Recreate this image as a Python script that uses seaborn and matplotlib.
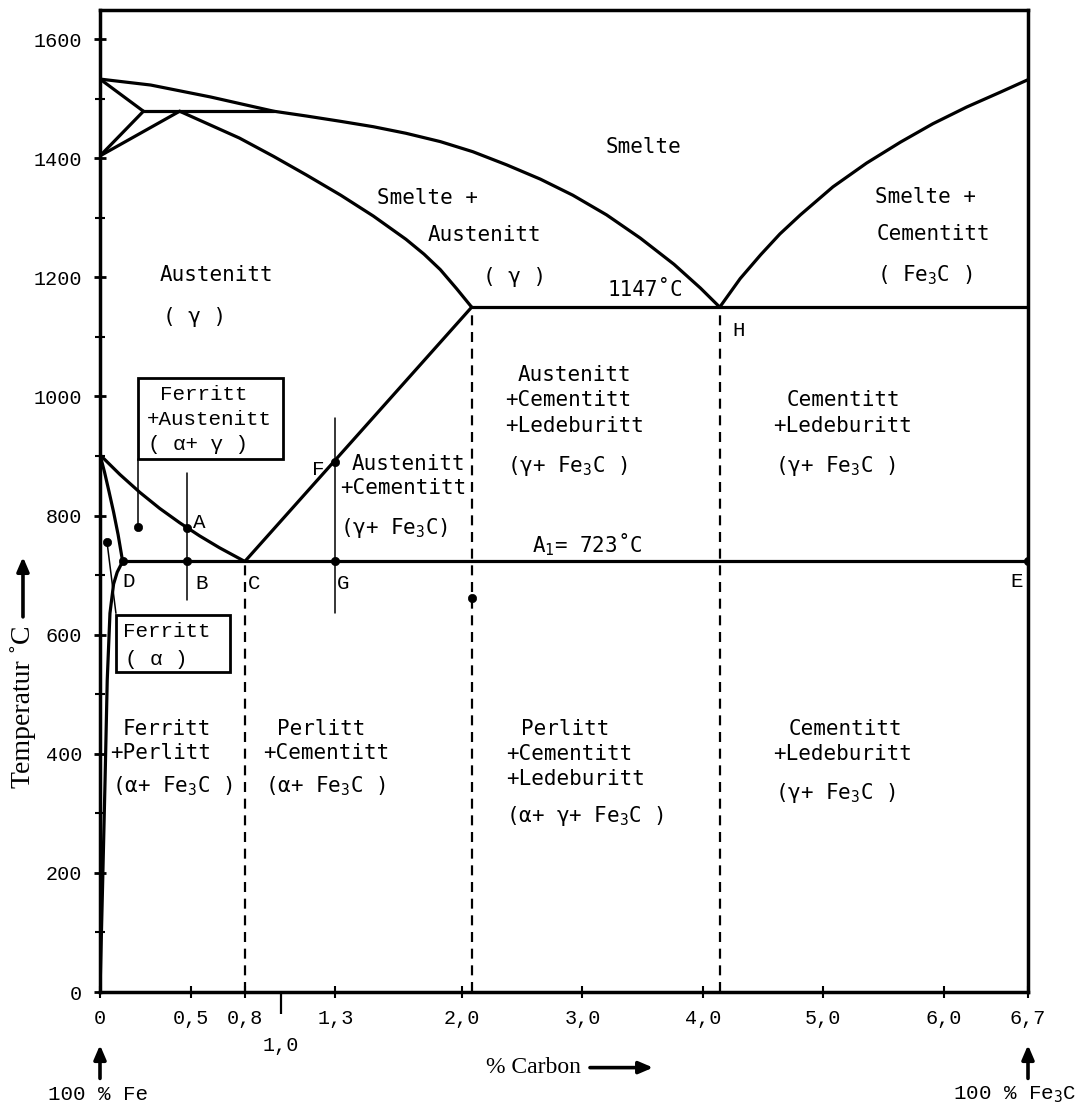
import numpy as np
import matplotlib
matplotlib.use("Agg")
import matplotlib.pyplot as plt
import seaborn as sns
from matplotlib.patches import Rectangle

# ---------------- data (carbon %, temperature degC) ----------------
liquidus_c = [0.0, 0.28, 0.61, 0.77, 0.96, 1.14, 1.33, 1.51, 1.69, 1.88, 2.09,
              2.37, 2.65, 2.92, 3.20, 3.48, 3.76, 3.98, 4.14]
liquidus_t = [1533, 1523, 1503, 1492, 1479, 1471, 1462, 1453, 1442, 1428, 1411,
              1389, 1365, 1338, 1305, 1266, 1222, 1182, 1150]
cem_liq_c = [4.14, 4.31, 4.48, 4.64, 4.81, 5.08, 5.36, 5.64, 5.91, 6.19, 6.47, 6.70]
cem_liq_t = [1150, 1198, 1238, 1273, 1305, 1352, 1392, 1427, 1458, 1486, 1511, 1532]
solidus_c = [0.44, 0.77, 0.96, 1.14, 1.33, 1.51, 1.69, 1.79, 1.88, 1.97, 2.08]
solidus_t = [1479, 1434, 1403, 1372, 1338, 1303, 1264, 1239, 1213, 1181, 1150]
perit_c = [0.24, 0.96]
perit_t = [1479, 1479]
delta1_c = [0.0, 0.24]
delta1_t = [1533, 1479]
delta2_c = [0.0, 0.24]
delta2_t = [1404, 1479]
delta3_c = [0.0, 0.44]
delta3_t = [1404, 1479]
eutectic_c = [2.08, 6.70]
eutectic_t = [1150, 1150]
eutectoid_c = [0.125, 6.70]
eutectoid_t = [723, 723]
ac3_c = [0.0, 0.11, 0.22, 0.33, 0.44, 0.55, 0.66, 0.80]
ac3_t = [902, 869, 839, 812, 788, 766, 746, 723]
acm_c = [0.80, 2.08]
acm_t = [723, 1150]
a3_c = [0.0, 0.025, 0.05, 0.075, 0.10, 0.125]
a3_t = [902, 873, 840, 806, 768, 723]
solvus_c = [0.125, 0.095, 0.075, 0.055, 0.040, 0.028, 0.015, 0.0]
solvus_t = [723, 705, 685, 636, 524, 356, 188, 0]

dash_c = [0.80, 2.08, 4.14]
dash_top = [723, 1150, 1150]

ab_c = [0.48, 0.48]
ab_t = [658, 871]
fg_c = [1.30, 1.30]
fg_t = [636, 964]
lead1_c = [0.21, 0.21]
lead1_t = [781, 895]
lead2_c = [0.039, 0.088]
lead2_t = [755, 636]

dots_c = [0.48, 0.48, 1.30, 1.30, 0.125, 6.70, 0.21, 0.039, 2.08]
dots_t = [780, 723, 890, 723, 723, 723, 781, 755, 661]

x_ticks = [0, 0.5, 0.8, 1.3, 2.0, 3.0, 4.0, 5.0, 6.0, 6.7]
x_tick_labels = ["0", "0,5", "0,8", "1,3", "2,0", "3,0", "4,0", "5,0", "6,0", "6,7"]
x_minor = [1.0]
x_minor_labels = ["1,0"]
y_ticks = [0, 200, 400, 600, 800, 1000, 1200, 1400, 1600]
y_minor = [100, 300, 500, 700, 900, 1100, 1300, 1500]

# ---------------- style ----------------
sns.set_theme(style="ticks", rc={
    "text.color": "black", "axes.labelcolor": "black",
    "xtick.color": "black", "ytick.color": "black",
    "axes.edgecolor": "black",
})
plt.rcParams["font.family"] = ["Liberation Mono", "DejaVu Sans"]
plt.rcParams["mathtext.fontset"] = "custom"
plt.rcParams["mathtext.rm"] = "DejaVu Sans Mono"
plt.rcParams["mathtext.it"] = "DejaVu Sans Mono"

R = 120.4 / 181.0  # compression of the axis beyond 2 % C


def fwd(x):
    x = np.asarray(x, dtype=float)
    return np.where(x <= 2, x, 2 + (x - 2) * R)


def inv(y):
    y = np.asarray(y, dtype=float)
    return np.where(y <= 2, y, 2 + (y - 2) / R)


fig = plt.figure(figsize=(10.75, 11.11), dpi=100)
ax = fig.add_axes([100 / 1075, 119 / 1111, 928 / 1075, 982 / 1111])
ax.set_xscale("function", functions=(fwd, inv))

THICK = 2.3
THIN = 1.1


def line(c, t, lw=THICK, **kw):
    sns.lineplot(x=c, y=t, ax=ax, sort=False, estimator=None,
                 color="black", linewidth=lw, **kw)


for c, t in [(liquidus_c, liquidus_t), (cem_liq_c, cem_liq_t),
             (solidus_c, solidus_t), (perit_c, perit_t),
             (delta1_c, delta1_t), (delta2_c, delta2_t), (delta3_c, delta3_t),
             (eutectic_c, eutectic_t), (eutectoid_c, eutectoid_t),
             (ac3_c, ac3_t), (acm_c, acm_t), (a3_c, a3_t),
             (solvus_c, solvus_t)]:
    line(c, t)

for c, top in zip(dash_c, dash_top):
    line([c, c], [0, top], lw=1.6, linestyle=(0, (4.5, 3)))

for c, t in [(ab_c, ab_t), (fg_c, fg_t), (lead1_c, lead1_t), (lead2_c, lead2_t)]:
    line(c, t, lw=THIN)

sns.scatterplot(x=dots_c, y=dots_t, ax=ax, color="black", s=36,
                edgecolor="black", zorder=5)

# boxes
ax.add_patch(Rectangle((0.21, 895), 1.011 - 0.21, 1031 - 895, fill=False,
                       lw=2.0, edgecolor="black"))
ax.add_patch(Rectangle((0.088, 537), 0.718 - 0.088, 633 - 537, fill=False,
                       lw=2.0, edgecolor="black"))

ax.set_xlim(0, 6.7)
ax.set_ylim(0, 1649)

for s in ax.spines.values():
    s.set_linewidth(2.5)
    s.set_color("black")

ax.set_xticks(x_ticks, labels=x_tick_labels)
ax.set_xticks(x_minor, labels=x_minor_labels, minor=True)
ax.set_yticks(y_ticks, labels=[str(v) for v in y_ticks])
ax.set_yticks(y_minor, minor=True)
ax.tick_params(axis="y", which="major", direction="inout", length=8, width=2,
               pad=9, labelsize=14.5)
ax.tick_params(axis="y", which="minor", direction="inout", length=7, width=1.5)
ax.tick_params(axis="x", which="major", direction="inout", length=8, width=1.5,
               pad=8, labelsize=14.5)
ax.tick_params(axis="x", which="minor", direction="out", length=16, width=1.6,
               pad=16, labelsize=14.5)
ax.set_xlabel("")
ax.set_ylabel("")

# ---------------- region labels ----------------
SANS = "DejaVu Sans Mono"
FS = 15


def lab(x, y, s, fam=SANS, fs=FS, ha="left"):
    ax.text(x, y, s, family=fam, fontsize=fs, ha=ha, va="center_baseline",
            color="black")


F3 = "Fe$_3$C"
lab(3.503, 1422, "Smelte", ha="center")
lab(1.530, 1336, "Smelte +")
lab(1.812, 1274, "Austenitt")
lab(2.174, 1204, "( γ )")
lab(3.204, 1182, "1147˚C")
lab(5.430, 1338, "Smelte +")
lab(5.439, 1276, "Cementitt")
lab(5.447, 1209, "( " + F3 + " )")
lab(0.331, 1207, "Austenitt")
lab(0.348, 1137, "( γ )")

lab(2.465, 1039, "Austenitt")
lab(2.357, 997, "+Cementitt")
lab(2.357, 954, "+Ledeburitt")
lab(2.374, 888, "(γ+ " + F3 + " )")

lab(1.392, 890, "Austenitt")
lab(1.326, 850, "+Cementitt")
lab(1.326, 784, "(γ+ " + F3 + ")")

lab(2.581, 756, "A$_1$= 723˚C")

lab(4.699, 997, "Cementitt")
lab(4.583, 954, "+Ledeburitt")
lab(4.600, 888, "(γ+ " + F3 + " )")

lab(4.708, 445, "Cementitt")
lab(4.583, 403, "+Ledeburitt")
lab(4.600, 339, "(γ+ " + F3 + " )")

lab(2.490, 445, "Perlitt")
lab(2.365, 403, "+Cementitt")
lab(2.365, 361, "+Ledeburitt")
lab(2.365, 300, "(α+ γ+ " + F3 + " )")

lab(0.978, 445, "Perlitt")
lab(0.901, 405, "+Cementitt")
lab(0.912, 351, "(α+ " + F3 + " )")

lab(0.127, 445, "Ferritt")
lab(0.055, 405, "+Perlitt")
lab(0.066, 351, "(α+ " + F3 + " )")

MONO = "Liberation Mono"
lab(0.331, 1006, "Ferritt", fam=MONO)
lab(0.260, 964, "+Austenitt", fam=MONO)
lab(0.265, 922, "( α+ γ )", fam=MONO)
lab(0.127, 608, "Ferritt", fam=MONO)
lab(0.138, 562, "( α )", fam=MONO)

for x, y, s in [(0.514, 792, "A"), (0.525, 689, "B"), (0.818, 689, "C"),
                (0.122, 692, "D"), (1.171, 880, "F"), (1.309, 689, "G"),
                (4.243, 1115, "H"), (6.55, 692, "E")]:
    lab(x, y, s, fam=MONO)

# ---------------- axis titles & arrows ----------------
SERIF = "Liberation Serif"
ax.text(-0.083, 0.290, "Temperatur ˚C", transform=ax.transAxes, rotation=90,
        ha="center", va="center", family=SERIF, fontsize=20)
arrow = dict(arrowstyle="-|>,head_length=0.7,head_width=0.3", lw=2.6,
             color="black", shrinkA=0, shrinkB=0)
ax.annotate("", xy=(-0.083, 0.443), xytext=(-0.083, 0.382),
            xycoords="axes fraction", arrowprops=arrow, annotation_clip=False)
ax.text(0.467, -0.077, "% Carbon", transform=ax.transAxes, ha="center",
        va="center", family=SERIF, fontsize=17)
ax.annotate("", xy=(0.596, -0.077), xytext=(0.528, -0.077),
            xycoords="axes fraction", arrowprops=arrow, annotation_clip=False)

xt = ax.get_xaxis_transform()
for c in [0.0, 6.7]:
    ax.annotate("", xy=(c, -0.054), xytext=(c, -0.088), xycoords=xt,
                arrowprops=arrow, annotation_clip=False)
ax.text(-0.002, -0.102, "100 % Fe", transform=ax.transAxes, ha="center",
        va="center_baseline", family=MONO, fontsize=15)
ax.text(0.986, -0.102, "100 % Fe$_3$C", transform=ax.transAxes, ha="center",
        va="center_baseline", family=MONO, fontsize=15)

fig.savefig("out.png", dpi=100)
